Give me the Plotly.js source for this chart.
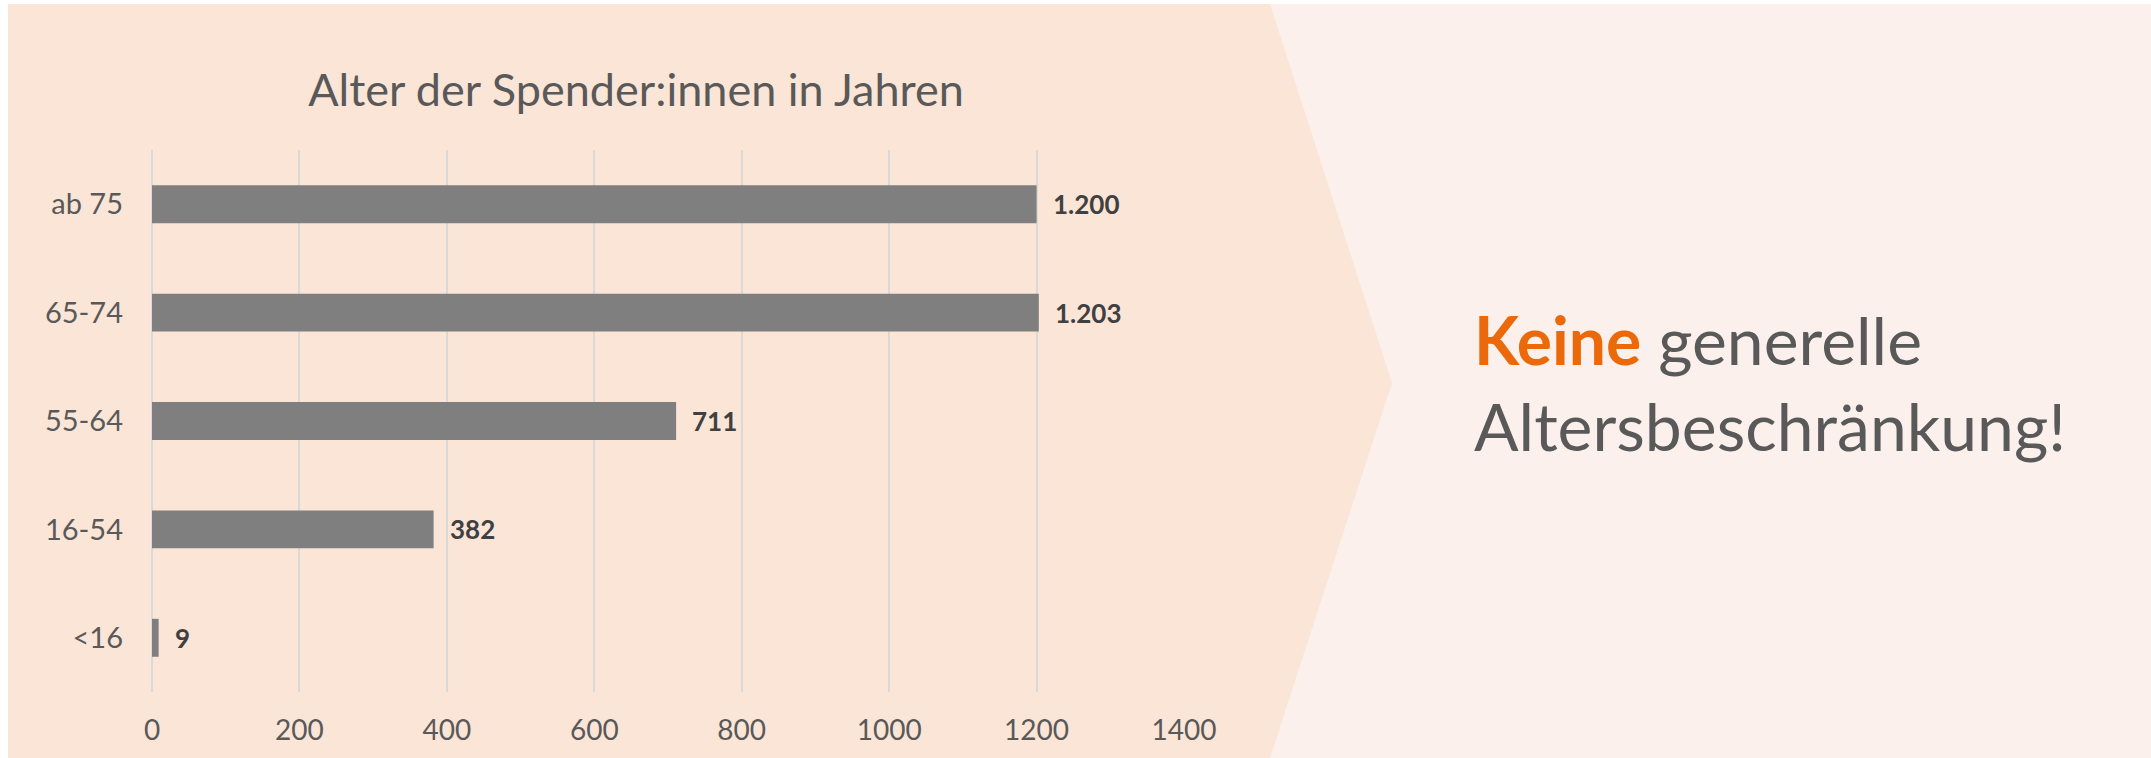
<!DOCTYPE html>
<html>
<head>
<meta charset="utf-8">
<script src="https://cdn.plot.ly/plotly-3.0.1.min.js"></script>
<style>
  html, body { margin: 0; padding: 0; background: #ffffff; }
  #chart { width: 2151px; height: 758px; }
</style>
</head>
<body>
<div id="chart"></div>
<script>
// ---- data ----
const categories = ['ab 75', '65-74', '55-64', '16-54', '<16'];
const values = [1200, 1203, 711, 382, 9];
const xTickValues = [0, 200, 400, 600, 800, 1000, 1200, 1400];
const chartTitle = 'Alter der Spender:innen in Jahren';
const highlightWord = 'Keine';
const messageRest = ' generelle';
const messageLine2 = 'Altersbeschränkung!';

// ---- geometry (pixels) ----
const W = 2151, H = 758;
const M = { l: 152, r: W - 1184, t: 150, b: H - 692 };
const PW = W - M.l - M.r, PH = H - M.t - M.b;
const px = x => (x - M.l) / PW;
const py = y => 1 - (y - M.t) / PH;

function fmt(v) {
  if (v >= 1000) return Math.floor(v / 1000) + '.' + String(v % 1000).padStart(3, '0');
  return String(v);
}

const FONT = 'Lato, "Open Sans", sans-serif';

const trace = {
  type: 'bar',
  orientation: 'h',
  x: values,
  y: categories,
  marker: { color: '#7F7F7F', line: { width: 0 } },
  hoverinfo: 'x+y'
};

const valueAnnotations = categories.map((c, i) => ({
  x: values[i], y: c, xref: 'x', yref: 'y',
  text: '<b>' + fmt(values[i]) + '</b>',
  showarrow: false, xanchor: 'left', yanchor: 'middle', xshift: 14,
  font: { family: FONT, size: 26, color: '#404040' }
}));

const messageAnnotation = {
  xref: 'paper', yref: 'paper',
  x: px(1472), y: py(382),
  xanchor: 'left', yanchor: 'middle', align: 'left',
  showarrow: false,
  text: '<b><span style="color:#EB690B">' + highlightWord + '</span></b>' + messageRest + '<br>' + messageLine2,
  font: { family: FONT, size: 66, color: '#595959' }
};

const shapes = [
  // right light panel
  { type: 'rect', xref: 'paper', yref: 'paper', layer: 'below',
    x0: px(8), x1: px(W), y0: py(H), y1: py(4),
    fillcolor: '#FBF0EB', line: { width: 0 } },
  // left peach chevron panel
  { type: 'path', xref: 'paper', yref: 'paper', layer: 'below',
    path: 'M ' + px(8) + ' ' + py(4) + ' L ' + px(1270) + ' ' + py(4) +
          ' L ' + px(1392) + ' ' + py(383) + ' L ' + px(1270) + ' ' + py(H) +
          ' L ' + px(8) + ' ' + py(H) + ' Z',
    fillcolor: '#FBE5D7', line: { width: 0 } }
];

const layout = {
  width: W, height: H,
  margin: M,
  paper_bgcolor: '#FFFFFF',
  plot_bgcolor: 'rgba(0,0,0,0)',
  showlegend: false,
  bargap: 0.65,
  font: { family: FONT, color: '#595959' },
  title: {
    text: chartTitle,
    xref: 'container', yref: 'container',
    x: 636 / W, xanchor: 'center',
    y: 1 - 90 / H, yanchor: 'middle',
    font: { family: FONT, size: 45, color: '#595959' }
  },
  xaxis: {
    range: [0, 1400],
    tickvals: xTickValues,
    tickformat: 'd',
    showgrid: true, gridcolor: '#D9D9D9', gridwidth: 2,
    zeroline: true, zerolinecolor: '#D9D9D9', zerolinewidth: 2,
    showline: false, ticks: '',
    ticklabelstandoff: 19,
    tickfont: { family: FONT, size: 28, color: '#595959' },
    fixedrange: true
  },
  yaxis: {
    type: 'category',
    autorange: 'reversed',
    showgrid: false, zeroline: false, showline: false, ticks: '',
    ticklabelstandoff: 28,
    tickfont: { family: FONT, size: 29, color: '#595959' },
    fixedrange: true
  },
  shapes: shapes,
  annotations: valueAnnotations.concat([messageAnnotation])
};

Plotly.newPlot('chart', [trace], layout, { displayModeBar: false, staticPlot: true });
</script>
</body>
</html>
